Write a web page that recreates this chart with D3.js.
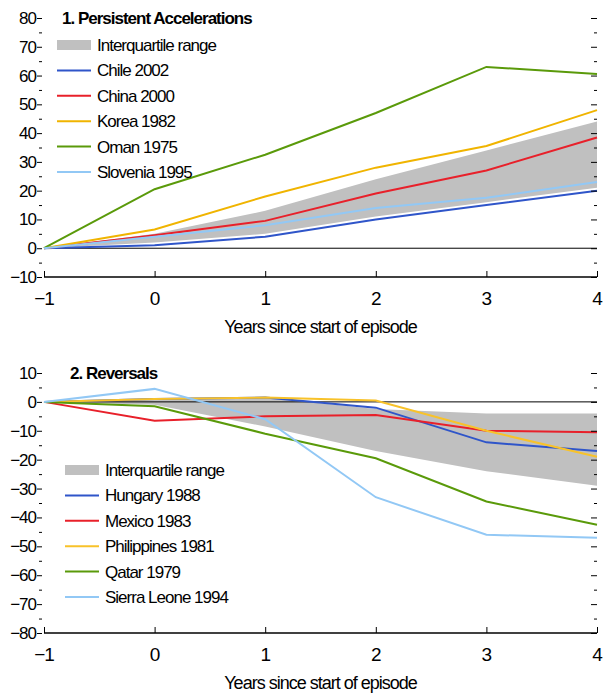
<!DOCTYPE html>
<html><head><meta charset="utf-8">
<script src="https://cdn.jsdelivr.net/npm/d3@7"></script>
<style>
body{margin:0;background:#fff}
text{font-family:"Liberation Sans",Arial,sans-serif;letter-spacing:-1px}
</style></head><body>
<svg id="c" width="607" height="694"></svg>
<script>
const years = [-1, 0, 1, 2, 3, 4];

// Panel 1: persistent accelerations
const accLow = [0, 2, 5, 11, 16, 21];
const accHigh = [0, 5, 13, 24, 34, 44];
const accNames = ["Chile 2002", "China 2000", "Korea 1982", "Oman 1975", "Slovenia 1995"];
const accValues = [
  [0, 1, 4, 10, 15, 20],
  [0, 4.5, 9.5, 19, 27, 38.5],
  [0, 6.5, 18, 28, 35.5, 48],
  [0, 20.5, 32.5, 47, 63, 60.5],
  [0, 4, 8, 14, 17.5, 23]
];
const accTicks = [-10, 0, 10, 20, 30, 40, 50, 60, 70, 80];

// Panel 2: reversals
const revLow = [0, -1, -8.5, -17, -24, -29];
const revHigh = [0, 1, 1.5, -2.5, -4, -4];
const revNames = ["Hungary 1988", "Mexico 1983", "Philippines 1981", "Qatar 1979", "Sierra Leone 1994"];
const revValues = [
  [0, 1, 1.5, -2, -14, -17],
  [0, -6.5, -5, -4.5, -10, -10.5],
  [0, 1, 1.5, 0.5, -10, -19],
  [0, -1.5, -11, -19.5, -34.5, -42.5],
  [0, 4.5, -6, -33, -46, -47]
];
const revTicks = [-80, -70, -60, -50, -40, -30, -20, -10, 0, 10];

const colors = ["#2f55c9", "#e8202a", "#f0b400", "#5a9a0a", "#92c8f5"];
const revColors = ["#2f55c9", "#e8202a", "#f8c22a", "#5a9a0a", "#92c8f5"];

const svg = d3.select("#c");
const x = d3.scaleLinear().domain([-1, 4]).range([44, 597]);
const minus = d => String(d).replace("-", "\u2212");

function panel(o) {
  const g = svg.append("g");
  const y = d3.scaleLinear().domain(o.domain).range([o.bottom, o.top]);
  const minor = d3.range(o.domain[0], o.domain[1] + 1, 5);

  g.append("path")
    .datum(years.map((d, i) => [d, o.low[i], o.high[i]]))
    .attr("fill", "#c0c0c0")
    .attr("d", d3.area().x(d => x(d[0])).y0(d => y(d[1])).y1(d => y(d[2])));

  g.append("line").attr("x1", x(-1)).attr("x2", x(4))
    .attr("y1", y(0)).attr("y2", y(0)).attr("stroke", "#000").attr("stroke-width", 1);

  o.values.forEach((vals, i) => {
    g.append("path").datum(vals)
      .attr("fill", "none").attr("stroke", o.colors[i]).attr("stroke-width", 2)
      .attr("d", d3.line().x((d, j) => x(years[j])).y(d => y(d)));
  });

  // left ticks and labels
  const left = g.append("g").attr("transform", `translate(${x(-1) - 2},0)`)
    .call(d3.axisLeft(y).tickValues(minor).tickSize(5).tickPadding(1)
      .tickFormat(d => o.ticks.includes(d) ? minus(d) : ""));
  left.select(".domain").remove();
  left.selectAll("text").attr("font-size", 17).attr("font-family", "Liberation Sans");
  left.selectAll("line").filter(d => !o.ticks.includes(d)).attr("x2", -3);

  // right ticks
  const right = g.append("g").attr("transform", `translate(${x(4)},0)`)
    .call(d3.axisLeft(y).tickValues(minor).tickSize(6).tickFormat(""));
  right.select(".domain").remove();
  right.selectAll("line").filter(d => !o.ticks.includes(d)).attr("x2", -3);

  // bottom axis
  const bot = g.append("g").attr("transform", `translate(0,${o.bottom})`)
    .call(d3.axisTop(x).tickValues(years).tickSize(6).tickFormat(""));
  bot.select(".domain").attr("d", `M${x(-1)},0H${x(4)}`).attr("stroke-width", 1.5);
  g.append("g").selectAll("text").data(years).join("text")
    .attr("x", d => x(d)).attr("y", o.bottom + 28).attr("text-anchor", "middle")
    .attr("font-size", 19).text(minus);
  g.append("text").attr("x", x(1.5)).attr("y", o.bottom + 56).attr("text-anchor", "middle")
    .attr("font-size", 18).text("Years since start of episode");

  g.append("text").attr("x", o.lx + 5).attr("y", o.top + 6).attr("font-size", 17)
    .attr("font-weight", "bold").text(o.title);

  const names = ["Interquartile range"].concat(o.names);
  names.forEach((n, i) => {
    const ly = o.ly + i * 25.4;
    if (i === 0) g.append("rect").attr("x", o.lx).attr("y", ly - 5).attr("width", 34).attr("height", 10).attr("fill", "#c0c0c0");
    else g.append("line").attr("x1", o.lx).attr("x2", o.lx + 34).attr("y1", ly).attr("y2", ly)
      .attr("stroke", o.colors[i - 1]).attr("stroke-width", 2);
    g.append("text").attr("x", o.lx + 40).attr("y", ly + 6).attr("font-size", 17).text(n);
  });
}

panel({domain: [-10, 80], top: 18, bottom: 277, low: accLow, high: accHigh, values: accValues,
  names: accNames, colors: colors, ticks: accTicks, title: "1. Persistent Accelerations", lx: 57, ly: 45});
panel({domain: [-80, 10], top: 373, bottom: 633, low: revLow, high: revHigh, values: revValues,
  names: revNames, colors: revColors, ticks: revTicks, title: "2. Reversals", lx: 65, ly: 470});
</script></body></html>
